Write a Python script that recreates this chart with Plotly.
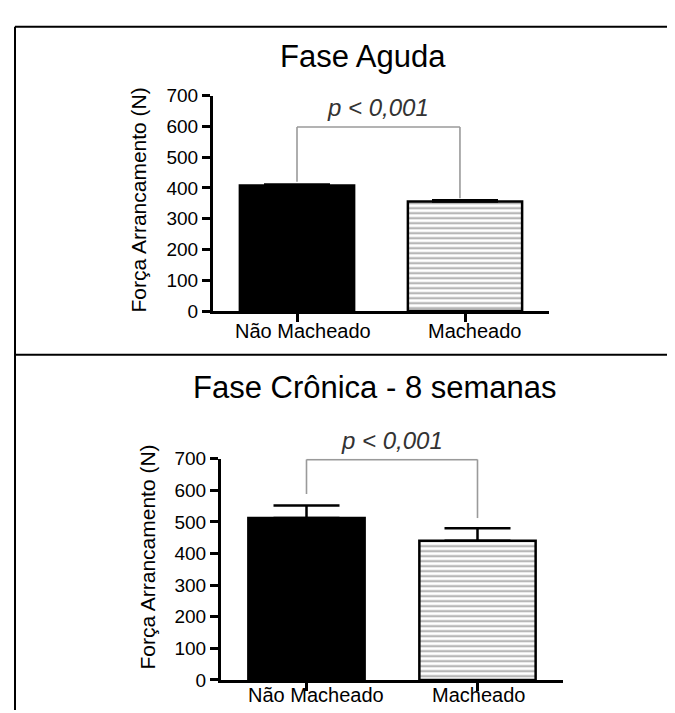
import plotly.graph_objects as go

# ---------------- data ----------------
categories = ["Não Macheado", "Macheado"]
aguda_values = [408, 356]
aguda_err = [3, 4]
cronica_values = [512, 440]
cronica_err = [40, 40]

y_ticks = [0, 100, 200, 300, 400, 500, 600, 700]
p_label = "p < 0,001"

# significance brackets: [left x, right x], top level, [left leg bottom, right leg bottom]
aguda_bracket_x = [0, 0.97]
aguda_bracket_top = 598
aguda_bracket_legs = [420, 367]
aguda_p_y = 662

cronica_bracket_x = [0, 1.0]
cronica_bracket_top = 697
cronica_bracket_legs = [588, 512]
cronica_p_y = 756

title_top = "Fase Aguda"
title_bottom = "Fase Crônica - 8 semanas"
y_title = "Força Arrancamento (N)"

W, H = 675, 713
FONT = "Liberation Sans, Arial, Helvetica, sans-serif"
Y_MAX = 700


def px_x(v):
    return v / W


def px_y(v):
    return 1 - v / H


fig = go.Figure()

for (vals, errs, xa, ya) in [
    (aguda_values, aguda_err, "x", "y"),
    (cronica_values, cronica_err, "x2", "y2"),
]:
    fig.add_trace(go.Bar(
        x=categories, y=vals, xaxis=xa, yaxis=ya, width=[0.68, 0.68],
        marker=dict(
            color=["black", "white"],
            line=dict(color="black", width=2.5),
            pattern=dict(shape=["", "-"], fgcolor="#8c8c8c", bgcolor="white",
                         size=5, solidity=0.35),
        ),
        error_y=dict(type="data", symmetric=False, array=errs, arrayminus=[0, 0],
                     color="black", thickness=2.5, width=33),
        showlegend=False, hoverinfo="skip",
    ))

axis_common = dict(
    showgrid=False, zeroline=False, showline=True, linecolor="black", linewidth=3,
    ticks="outside", ticklen=8, tickwidth=2.5, tickcolor="black",
    tickfont=dict(family=FONT, size=19, color="black"), fixedrange=True,
)

fig.update_layout(
    width=W, height=H, margin=dict(l=0, r=0, t=0, b=0),
    paper_bgcolor="white", plot_bgcolor="white",
    xaxis=dict(axis_common, domain=[px_x(205), px_x(541)], anchor="y",
               type="category", range=[-0.5, 1.5], showticklabels=False),
    yaxis=dict(axis_common, domain=[px_y(302), px_y(80)], anchor="x",
               range=[0, Y_MAX], tickvals=y_ticks),
    xaxis2=dict(axis_common, domain=[px_x(213), px_x(555)], anchor="y2",
                type="category", range=[-0.5, 1.5], showticklabels=False),
    yaxis2=dict(axis_common, domain=[px_y(682), px_y(454)], anchor="x2",
                range=[0, Y_MAX], tickvals=y_ticks),
)

ann = []
# category labels
for (xa, ypx, shifts) in [("x", 322, [6, 9]), ("x2", 698, [9, 1])]:
    for cat, sh in zip(categories, shifts):
        ann.append(dict(text=cat, x=cat, y=px_y(ypx), xref=xa, yref="paper",
                        xshift=sh, showarrow=False, xanchor="center", yanchor="middle",
                        font=dict(family=FONT, size=20, color="black")))
# titles
ann.append(dict(text=title_top, x=px_x(355), y=px_y(40), xref="paper", yref="paper",
                showarrow=False, font=dict(family=FONT, size=31, color="black"),
                xanchor="center", yanchor="middle"))
ann.append(dict(text=title_bottom, x=px_x(367), y=px_y(381), xref="paper", yref="paper",
                showarrow=False, font=dict(family=FONT, size=31, color="black"),
                xanchor="center", yanchor="middle"))
# y titles
ann.append(dict(text=y_title, x=px_x(130), y=px_y(188), xref="paper", yref="paper",
                textangle=-90, showarrow=False,
                font=dict(family=FONT, size=21, color="black"),
                xanchor="center", yanchor="middle"))
ann.append(dict(text=y_title, x=px_x(140), y=px_y(556), xref="paper", yref="paper",
                textangle=-90, showarrow=False,
                font=dict(family=FONT, size=21, color="black"),
                xanchor="center", yanchor="middle"))
# p-values (placed in paper coordinates computed from the axis domains)
for (pval, bx, dom) in [
    (aguda_p_y, aguda_bracket_x, (px_y(302), px_y(80), px_x(205), px_x(541))),
    (cronica_p_y, cronica_bracket_x, (px_y(682), px_y(454), px_x(213), px_x(555))),
]:
    y0, y1, x0, x1 = dom
    xc = (sum(bx) / 2 + 0.5) / 2.0
    ann.append(dict(text="<i>" + p_label + "</i>",
                    x=x0 + (x1 - x0) * xc + 0.0,
                    y=y0 + (y1 - y0) * pval / Y_MAX,
                    xref="paper", yref="paper", showarrow=False,
                    xanchor="center", yanchor="middle",
                    font=dict(family=FONT, size=24, color="#333333")))
fig.update_layout(annotations=ann)

shapes = []
# significance brackets
for (bx, btop, blegs, xa, ya) in [
    (aguda_bracket_x, aguda_bracket_top, aguda_bracket_legs, "x", "y"),
    (cronica_bracket_x, cronica_bracket_top, cronica_bracket_legs, "x2", "y2"),
]:
    bl = dict(color="#9a9a9a", width=1.6)
    shapes.append(dict(type="line", xref=xa, yref=ya, x0=bx[0], x1=bx[0],
                       y0=blegs[0], y1=btop, line=bl))
    shapes.append(dict(type="line", xref=xa, yref=ya, x0=bx[0], x1=bx[1],
                       y0=btop, y1=btop, line=bl))
    shapes.append(dict(type="line", xref=xa, yref=ya, x0=bx[1], x1=bx[1],
                       y0=btop, y1=blegs[1], line=bl))

# panel borders
shapes += [
    dict(type="line", xref="paper", yref="paper", x0=px_x(7), x1=1, y0=px_y(9), y1=px_y(9),
         line=dict(color="black", width=2)),
    dict(type="line", xref="paper", yref="paper", x0=px_x(7), x1=px_x(7), y0=px_y(9), y1=0,
         line=dict(color="black", width=2)),
    dict(type="line", xref="paper", yref="paper", x0=px_x(7), x1=1, y0=px_y(347), y1=px_y(347),
         line=dict(color="black", width=2)),
]
fig.update_layout(shapes=shapes)

fig.write_html("out.html")
